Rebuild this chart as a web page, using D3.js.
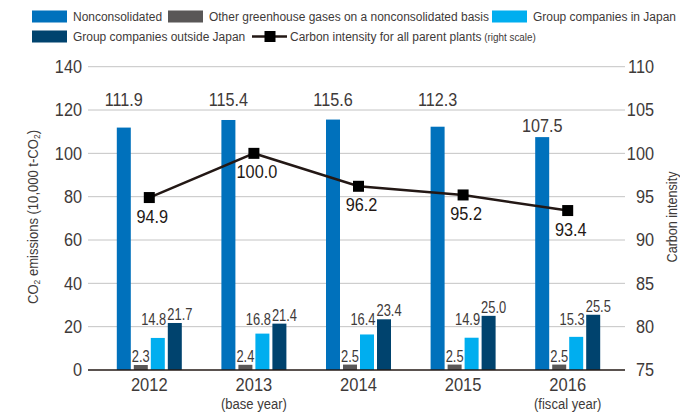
<!DOCTYPE html>
<html>
<head>
<meta charset="utf-8">
<script src="https://cdn.jsdelivr.net/npm/d3@7/dist/d3.min.js"></script>
<style>
  html, body { margin: 0; padding: 0; background: #fff; }
  svg { display: block; }
  text { font-family: "Liberation Sans", Arial, sans-serif; fill: #3e3a39; }
</style>
</head>
<body>
<svg id="chart" width="680" height="414"></svg>
<script>
// Fiscal years and their notes
const years = ["2012", "2013", "2014", "2015", "2016"];
const yearNotes = ["", "(base year)", "", "", "(fiscal year)"];

// CO2 emissions (10,000 t-CO2)
const nonconsolidated = [111.9, 115.4, 115.6, 112.3, 107.5];
const otherGhg = [2.3, 2.4, 2.5, 2.5, 2.5];
const groupJapan = [14.8, 16.8, 16.4, 14.9, 15.3];
const groupOutside = [21.7, 21.4, 23.4, 25.0, 25.5];

// Carbon intensity for all parent plants (right scale)
const carbonIntensity = [94.9, 100.0, 96.2, 95.2, 93.4];

// Axis ticks
const leftTicks = [0, 20, 40, 60, 80, 100, 120, 140];
const rightTicks = [75, 80, 85, 90, 95, 100, 105, 110];

const seriesKeys = ["noncon", "other", "japan", "outside"];
const seriesNames = ["Nonconsolidated", "Other greenhouse gases on a nonconsolidated basis",
                     "Group companies in Japan", "Group companies outside Japan"];
const seriesColors = ["#0071bc", "#595757", "#00aeef", "#00436e"];
const seriesValues = [nonconsolidated, otherGhg, groupJapan, groupOutside];

const svg = d3.select("#chart");
const fmt = d3.format(".1f");

// Condensed look: squeeze text horizontally around its anchor point
function squeeze(sel, k) {
  sel.each(function () {
    const t = d3.select(this);
    const x = +t.attr("x") || 0, y = +t.attr("y") || 0;
    const prev = t.attr("transform") || "";
    t.attr("x", 0).attr("y", 0)
      .attr("transform", `${prev} translate(${x},${y}) scale(${k},1)`);
  });
}

const plotLeft = 88, plotRight = 625, plotTop = 66.7, plotBottom = 370;

const x = d3.scaleBand().domain(years).range([97, 620]).padding(0);
const inner = d3.scaleBand().domain(seriesKeys).range([-32.5, 32.5])
  .paddingInner(3 / 17).paddingOuter(0);
const yL = d3.scaleLinear().domain([0, 140]).range([plotBottom, plotTop]);
const yR = d3.scaleLinear().domain([75, 110]).range([plotBottom, plotTop]);

// Gridlines
svg.append("g").selectAll("line").data(leftTicks.filter(t => t > 0)).join("line")
  .attr("x1", plotLeft).attr("x2", plotRight)
  .attr("y1", d => yL(d)).attr("y2", d => yL(d))
  .attr("stroke", "#c4c4c4").attr("stroke-width", 1);

// Left axis labels
const axL = svg.append("g").attr("transform", `translate(${plotLeft},0)`)
  .call(d3.axisLeft(yL).tickValues(leftTicks).tickSize(0).tickPadding(6));
axL.select(".domain").remove();
axL.selectAll("text").attr("font-size", 18.5).style("fill", "#3e3a39")
  .style("font-family", null).call(squeeze, 0.88);

// Right axis labels
const axR = svg.append("g").attr("transform", `translate(${plotRight},0)`)
  .call(d3.axisRight(yR).tickValues(rightTicks).tickSize(0).tickPadding(0));
axR.select(".domain").remove();
axR.selectAll("text").attr("font-size", 18.5).attr("text-anchor", "end")
  .attr("x", 29).style("fill", "#3e3a39").style("font-family", null)
  .call(squeeze, 0.88);

// Bars
const groups = svg.append("g").selectAll("g").data(years).join("g")
  .attr("transform", d => `translate(${x(d) + x.bandwidth() / 2},0)`);

seriesKeys.forEach((key, si) => {
  groups.append("rect")
    .attr("x", inner(key))
    .attr("width", inner.bandwidth())
    .attr("y", (d, i) => yL(seriesValues[si][i]))
    .attr("height", (d, i) => yL(0) - yL(seriesValues[si][i]))
    .attr("fill", seriesColors[si]);
});

// Baseline
svg.append("line").attr("x1", plotLeft).attr("x2", plotRight)
  .attr("y1", plotBottom).attr("y2", plotBottom)
  .attr("stroke", "#231815").attr("stroke-width", 1.6);

// Nonconsolidated value labels (lifted above the 120 gridline when they would touch it)
groups.append("text")
  .attr("x", inner("noncon") + inner.bandwidth() / 2)
  .attr("y", (d, i) => {
    const base = yL(nonconsolidated[i]) - 5;
    return (base - 13 < yL(120) + 1) ? yL(120) - 4 : base;
  })
  .attr("text-anchor", "middle").attr("font-size", 18)
  .text((d, i) => fmt(nonconsolidated[i]))
  .call(squeeze, 0.9);

// Other GHG labels
groups.append("text")
  .attr("x", inner("other") + inner.bandwidth() / 2)
  .attr("y", (d, i) => yL(otherGhg[i]) - 3)
  .attr("text-anchor", "middle").attr("font-size", 17)
  .text((d, i) => fmt(otherGhg[i]))
  .call(squeeze, 0.76);

// Group companies in Japan labels
groups.append("text")
  .attr("x", inner("japan") + inner.bandwidth() + 1.5)
  .attr("y", (d, i) => Math.min(yL(groupJapan[i]) - 6, yL(20) - 2))
  .attr("text-anchor", "end").attr("font-size", 17)
  .text((d, i) => fmt(groupJapan[i]))
  .call(squeeze, 0.76);

// Group companies outside Japan labels
groups.append("text")
  .attr("x", inner("outside") - 0.5)
  .attr("y", (d, i) => yL(groupOutside[i]) - 3)
  .attr("text-anchor", "start").attr("font-size", 17)
  .text((d, i) => fmt(groupOutside[i]))
  .call(squeeze, 0.76);

// Category labels
groups.append("text").attr("y", 391).attr("text-anchor", "middle")
  .attr("font-size", 19).text(d => d).call(squeeze, 0.87);
groups.append("text").attr("y", 408.5).attr("text-anchor", "middle")
  .attr("font-size", 14.5).text((d, i) => yearNotes[i]).call(squeeze, 0.9);

// Carbon intensity line
const cx = d => x(d) + x.bandwidth() / 2;
const line = d3.line().x((d, i) => cx(years[i])).y(d => yR(d));
svg.append("path").datum(carbonIntensity).attr("d", line)
  .attr("fill", "none").attr("stroke", "#231815").attr("stroke-width", 2.5);
svg.append("g").selectAll("rect").data(carbonIntensity).join("rect")
  .attr("x", (d, i) => cx(years[i]) - 5.5).attr("y", d => yR(d) - 5.5)
  .attr("width", 11).attr("height", 11).attr("fill", "#000");
svg.append("g").selectAll("text").data(carbonIntensity).join("text")
  .attr("x", (d, i) => cx(years[i]) + 3).attr("y", d => yR(d) + 25)
  .attr("text-anchor", "middle").attr("font-size", 18.5)
  .style("fill", "#231815")
  .text(d => fmt(d))
  .call(squeeze, 0.88);

// Axis titles
const tl = svg.append("text").attr("transform", `translate(38,217) rotate(-90) scale(0.9,1)`)
  .attr("text-anchor", "middle").attr("font-size", 14.5);
tl.append("tspan").text("CO");
tl.append("tspan").attr("font-size", 9.5).attr("dy", 2).text("2");
tl.append("tspan").attr("dy", -2).text(" emissions (10,000 t-CO");
tl.append("tspan").attr("font-size", 9.5).attr("dy", 2).text("2");
tl.append("tspan").attr("dy", -2).text(")");

svg.append("text").attr("transform", `translate(677,217) rotate(-90) scale(0.9,1)`)
  .attr("text-anchor", "middle").attr("font-size", 14).text("Carbon intensity");

// Legend
const legendItems = [
  { kind: "rect", color: seriesColors[0], label: seriesNames[0], x: 32, y: 10.5 },
  { kind: "rect", color: seriesColors[1], label: seriesNames[1], x: 168, y: 10.5 },
  { kind: "rect", color: seriesColors[2], label: seriesNames[2], x: 492, y: 10.5 },
  { kind: "rect", color: seriesColors[3], label: seriesNames[3], x: 32, y: 30.5 },
  { kind: "line", label: "Carbon intensity for all parent plants", note: " (right scale)", x: 252, y: 30.5 }
];
const lg = svg.append("g").selectAll("g").data(legendItems).join("g")
  .attr("transform", d => `translate(${d.x},${d.y})`);
lg.filter(d => d.kind === "rect").append("rect")
  .attr("width", 35).attr("height", 12).attr("fill", d => d.color);
const ll = lg.filter(d => d.kind === "line");
ll.append("line").attr("x1", 0).attr("x2", 35).attr("y1", 6).attr("y2", 6)
  .attr("stroke", "#231815").attr("stroke-width", 2.5);
ll.append("rect").attr("x", 12.5).attr("y", 0.5).attr("width", 11).attr("height", 11).attr("fill", "#000");
const lt = lg.append("text").attr("x", d => d.kind === "line" ? 38 : 41).attr("y", 10.5)
  .attr("font-size", 13.3);
lt.append("tspan").text(d => d.label);
lt.filter(d => d.note).append("tspan").attr("font-size", 11).text(d => d.note);
lt.call(squeeze, 0.9);
</script>
</body>
</html>
